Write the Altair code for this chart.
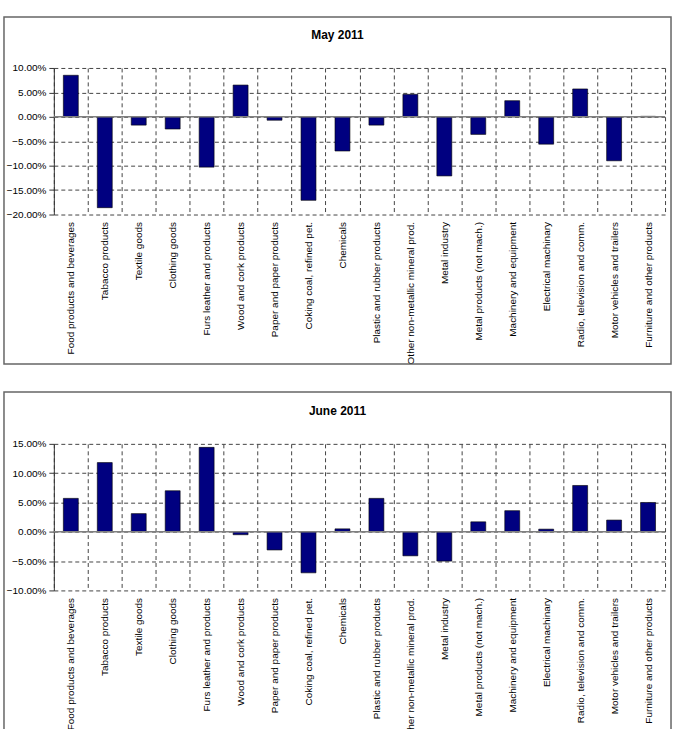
import altair as alt
import pandas as pd

categories = [
    "Food products and beverages", "Tabacco products", "Textile goods", "Clothing goods",
    "Furs leather and products", "Wood and cork products", "Paper and paper products",
    "Coking coal,  refined pet.", "Chemicals", "Plastic and rubber products",
    "Other non-metallic mineral prod.", "Metal industry", "Metal products  (not mach.)",
    "Machinery and equipment", "Electrical machinary", "Radio,  television and comm.",
    "Motor vehicles and trailers", "Furniture and other products",
]
may_values = [8.5, -18.6, -1.7, -2.5, -10.3, 6.5, -0.7, -17.1, -7.0, -1.7,
              4.6, -12.1, -3.6, 3.3, -5.6, 5.7, -9.0, 0.1]
june_values = [5.7, 11.8, 3.1, 7.0, 14.4, -0.5, -3.1, -7.0, 0.5, 5.7,
               -4.1, -5.0, 1.7, 3.6, 0.45, 7.9, 2.0, 5.0]
panel_titles = ["May 2011", "June 2011"]
may_ticks = [-20, -15, -10, -5, 0, 5, 10]
june_ticks = [-10, -5, 0, 5, 10, 15]

FONT = "Liberation Sans"
W, H = 613, 147
GRID = "#444"


def panel(title, values, ticks, box_top, box_bottom):
    df = pd.DataFrame({"sector": categories, "change": [v / 100 for v in values]})
    tick_vals = [round(t / 100, 4) for t in ticks]
    x = alt.X(
        "sector:N", sort=categories,
        scale=alt.Scale(paddingInner=0, paddingOuter=0),
        axis=alt.Axis(
            title=None, labelAngle=-90, tickBand="extent", grid=True,
            gridDash=[4, 3], gridColor=GRID, gridWidth=1,
            domain=False, ticks=False, labelPadding=7,
            labelFont=FONT, labelFontSize=10, labelColor="#000", labelLimit=300,
        ),
    )
    y_scale = alt.Scale(domain=[tick_vals[0], tick_vals[-1]], nice=False)
    y_axis = alt.Axis(
        title=None, values=tick_vals, format=".2%", grid=True, labelOverlap=False,
        gridDash=[4, 3], gridColor=GRID, gridWidth=1,
        domainColor="#333", tickColor="#333", tickSize=5, labelPadding=3,
        labelFont=FONT, labelFontSize=10, labelColor="#000",
    )
    y = alt.Y("change:Q", scale=y_scale, axis=y_axis)
    one = pd.DataFrame({"t": [title]})
    box = alt.Chart(one).mark_rect(
        fill="transparent", stroke="#666", strokeWidth=1.5
    ).encode(
        x=alt.value(-50), x2=alt.value(619),
        y=alt.value(box_top), y2=alt.value(box_bottom),
    )
    head = alt.Chart(one).mark_text(
        font=FONT, fontSize=12, fontWeight="bold", color="#000",
        align="center", baseline="middle",
    ).encode(text="t:N", x=alt.value(284.5), y=alt.value(-33))
    zero = alt.Chart(one).mark_rule(color="#808080", strokeWidth=1.5).encode(
        y=alt.Y(datum=0, scale=y_scale, axis=y_axis)
    )
    bars = alt.Chart(df).mark_bar(
        color="#000080", stroke="#000", strokeWidth=0.6, width={"band": 0.44}
    ).encode(x=x, y=y)
    return alt.layer(bars, zero, box, head).properties(width=W, height=H)


top = panel(panel_titles[0], may_values, may_ticks, -51, 297)
bottom = panel(panel_titles[1], june_values, june_ticks, -52, 340)

chart = alt.vconcat(top, bottom, spacing=26).properties(
    padding={"left": 3, "top": 15, "right": 5, "bottom": 0}
).configure_view(strokeWidth=0)

chart.save("out.html", embed_options={"renderer": "svg", "actions": False})
